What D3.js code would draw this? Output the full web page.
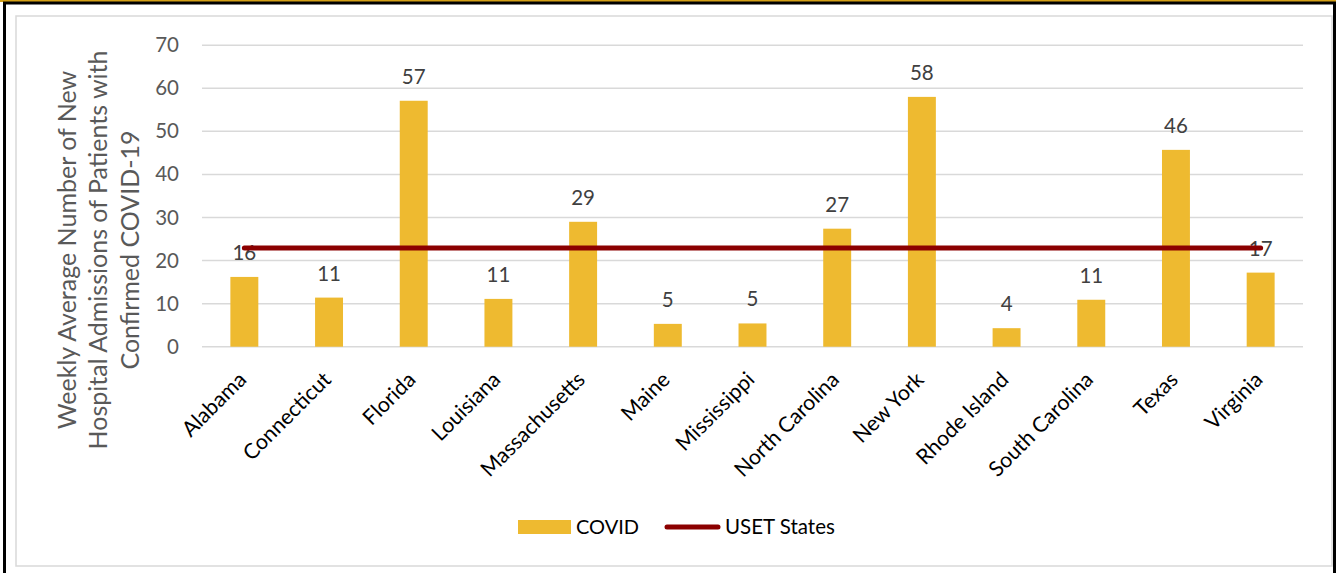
<!DOCTYPE html>
<html>
<head>
<meta charset="utf-8">
<script src="https://cdn.jsdelivr.net/npm/d3@7"></script>
<style>
  html, body { margin: 0; padding: 0; background: #fff; }
  svg { display: block; font-family: Lato, "Open Sans", sans-serif; }
</style>
</head>
<body>
<svg id="chart" width="1336" height="573"></svg>
<script>
const categories = ["Alabama","Connecticut","Florida","Louisiana","Massachusetts","Maine","Mississippi","North Carolina","New York","Rhode Island","South Carolina","Texas","Virginia"];
const covidValues = [16.2, 11.4, 57.1, 11.1, 29.0, 5.3, 5.4, 27.4, 58.0, 4.3, 10.9, 45.7, 17.2];
const usetValue = 22.9;
const yTicks = [0, 10, 20, 30, 40, 50, 60, 70];
const yTitleLines = ["Weekly Average Number of New", "Hospital Admissions of Patients with", "Confirmed COVID-19"];
const seriesNames = ["COVID", "USET States"];

(function () {
const svg = d3.select("#chart");
const W = 1336, H = 573;
const barColor = "#EEBA30", lineColor = "#8B0000";

// outer frame
svg.append("rect").attr("x", 0).attr("y", 0).attr("width", W).attr("height", 2).attr("fill", "#D4A017");
svg.append("rect").attr("x", 4.5).attr("y", 3).attr("width", W - 6).attr("height", H + 10)
  .attr("fill", "none").attr("stroke", "#000").attr("stroke-width", 3);
// inner chart area border
svg.append("rect").attr("x", 16).attr("y", 16).attr("width", 1316).attr("height", 550)
  .attr("fill", "#fff").attr("stroke", "#d9d9d9").attr("stroke-width", 1.5);

const pLeft = 202, pRight = 1303, pTop = 45.2, pBottom = 346.7;
const x = d3.scaleBand().domain(categories).range([pLeft, pRight]).paddingInner(0.67).paddingOuter(0.335);
const xc = d3.scaleBand().domain(categories).range([pLeft, pRight]);
const y = d3.scaleLinear().domain([0, 70]).range([pBottom, pTop]);

// gridlines
svg.append("g").selectAll("line").data(yTicks).join("line")
  .attr("x1", pLeft).attr("x2", pRight)
  .attr("y1", d => y(d)).attr("y2", d => y(d))
  .attr("stroke", "#d9d9d9").attr("stroke-width", 1.5);

// y axis tick labels
const yAxis = d3.axisLeft(y).tickValues(yTicks).tickSize(0).tickPadding(0);
const gy = svg.append("g").attr("transform", `translate(179,0)`).call(yAxis);
gy.select(".domain").remove();
gy.selectAll("text").attr("fill", "#595959").style("font-size", "20.5px").style("font-family", "Lato, sans-serif");

// bars
svg.append("g").selectAll("rect").data(categories).join("rect")
  .attr("x", d => x(d)).attr("width", x.bandwidth())
  .attr("y", (d, i) => y(covidValues[i]))
  .attr("height", (d, i) => y(0) - y(covidValues[i]))
  .attr("fill", barColor);

// data labels
svg.append("g").selectAll("text").data(categories).join("text")
  .attr("x", d => xc(d) + xc.bandwidth() / 2)
  .attr("y", (d, i) => y(covidValues[i]) - 17)
  .attr("text-anchor", "middle")
  .attr("fill", "#404040").style("font-size", "20.5px")
  .text((d, i) => Math.round(covidValues[i]));

// USET line
const lineGen = d3.line().x(d => xc(d) + xc.bandwidth() / 2).y(() => y(usetValue));
svg.append("path").datum(categories).attr("d", lineGen)
  .attr("fill", "none").attr("stroke", lineColor).attr("stroke-width", 5).attr("stroke-linecap", "round");

// x axis labels
const xAxis = d3.axisBottom(xc).tickSize(0).tickPadding(0);
const gx = svg.append("g").attr("transform", `translate(0,${pBottom})`).call(xAxis);
gx.select(".domain").remove();
gx.selectAll("text")
  .attr("fill", "#000").style("font-size", "21.3px").style("font-family", "Lato, sans-serif")
  .attr("text-anchor", "end")
  .attr("transform", "translate(-2,29) rotate(-45)")
  .attr("dy", "0.35em").attr("y", 0).attr("x", 0);

// y title
const yt = svg.append("text").attr("transform", "translate(99,250) rotate(-90)")
  .attr("text-anchor", "middle").attr("fill", "#595959").style("font-size", "25px");
yt.selectAll("tspan").data(yTitleLines).join("tspan")
  .attr("x", 0).attr("y", (d, i) => (i - 1) * 31.5 + 8).text(d => d);

// legend
const lg = svg.append("g");
lg.append("rect").attr("x", 518).attr("y", 520).attr("width", 53).attr("height", 14).attr("fill", barColor);
lg.append("text").attr("x", 576).attr("y", 534).attr("fill", "#000").style("font-size", "20px").text(seriesNames[0]);
lg.append("line").attr("x1", 667).attr("x2", 718).attr("y1", 527).attr("y2", 527)
  .attr("stroke", lineColor).attr("stroke-width", 5).attr("stroke-linecap", "round");
lg.append("text").attr("x", 725).attr("y", 534).attr("fill", "#000").style("font-size", "20.5px").text(seriesNames[1]);
})();
</script>
</body>
</html>
